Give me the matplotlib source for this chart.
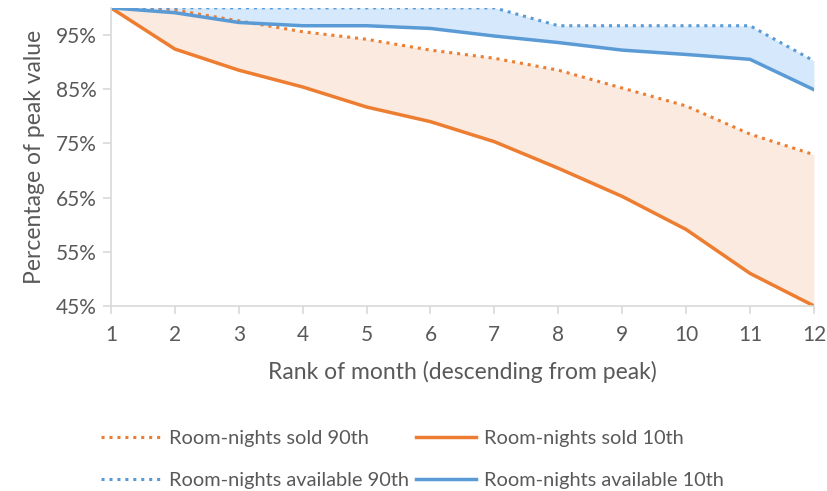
import matplotlib.pyplot as plt
from matplotlib.ticker import PercentFormatter

plt.rcParams['font.family'] = ['Lato', 'DejaVu Sans']

# rank of month, 1 = peak month
rank = [1, 2, 3, 4, 5, 6, 7, 8, 9, 10, 11, 12]

# percentage of peak value for each percentile band
sold_90 = [100, 99.6, 97.6, 95.6, 94.2, 92.2, 90.7, 88.5, 85.2, 81.9, 76.7, 72.9]
sold_10 = [100, 92.4, 88.5, 85.4, 81.7, 79.0, 75.3, 70.4, 65.2, 59.1, 51.0, 45.0]
avail_90 = [100, 100, 100, 100, 100, 100, 100, 96.7, 96.7, 96.7, 96.7, 90.2]
avail_10 = [100, 99.1, 97.3, 96.7, 96.7, 96.2, 94.8, 93.6, 92.2, 91.4, 90.5, 84.9]

yticks = [45, 55, 65, 75, 85, 95]

orange = '#ED7D31'
blue = '#5B9BD5'
grey = '#595959'

fig = plt.figure(figsize=(8.28, 4.91), dpi=100)
ax = fig.add_axes([0.134, 0.377, 0.849, 0.607])

# shaded bands between the 10th and 90th percentiles
ax.fill_between(rank, sold_10, sold_90, color='#FBEADF', lw=0)
ax.fill_between(rank, avail_10, avail_90, color='#D6E8FB', lw=0)

l1, = ax.plot(rank, sold_90, ls=(0, (1, 1.6)), color=orange, lw=2.2,
              label='Room-nights sold 90th')
l2, = ax.plot(rank, sold_10, color=orange, lw=2.5,
              label='Room-nights sold 10th')
l3, = ax.plot(rank, avail_90, ls=(0, (1, 1.6)), color=blue, lw=2.2,
              label='Room-nights available 90th')
l4, = ax.plot(rank, avail_10, color=blue, lw=2.5,
              label='Room-nights available 10th')

ax.set_xlim(1, 12)
ax.set_ylim(45, 100)
ax.set_xticks(rank)
ax.set_yticks(yticks)
ax.yaxis.set_major_formatter(PercentFormatter(decimals=0))

for side in ['top', 'right']:
    ax.spines[side].set_visible(False)
for side in ['left', 'bottom']:
    ax.spines[side].set_color('#D9D9D9')
    ax.spines[side].set_linewidth(1.2)

ax.tick_params(axis='x', colors='#D9D9D9', length=6, width=1.2, labelcolor=grey,
               labelsize=15, pad=8)
ax.tick_params(axis='y', colors='#D9D9D9', length=6, width=1.2, labelcolor=grey,
               labelsize=15, pad=4)

ax.set_xlabel('Rank of month (descending from peak)', color=grey, fontsize=16.5, labelpad=11)
ax.set_ylabel('Percentage of peak value', color=grey, fontsize=16.5, labelpad=8)

fig.legend(handles=[l1, l3, l2, l4], ncol=2, loc='lower left',
           bbox_to_anchor=(0.1, -0.032), frameon=False, fontsize=14.4,
           labelcolor=grey, handlelength=3.0, handletextpad=0.4,
           columnspacing=0.35, labelspacing=1.25)

fig.savefig('out.png', dpi=100)
